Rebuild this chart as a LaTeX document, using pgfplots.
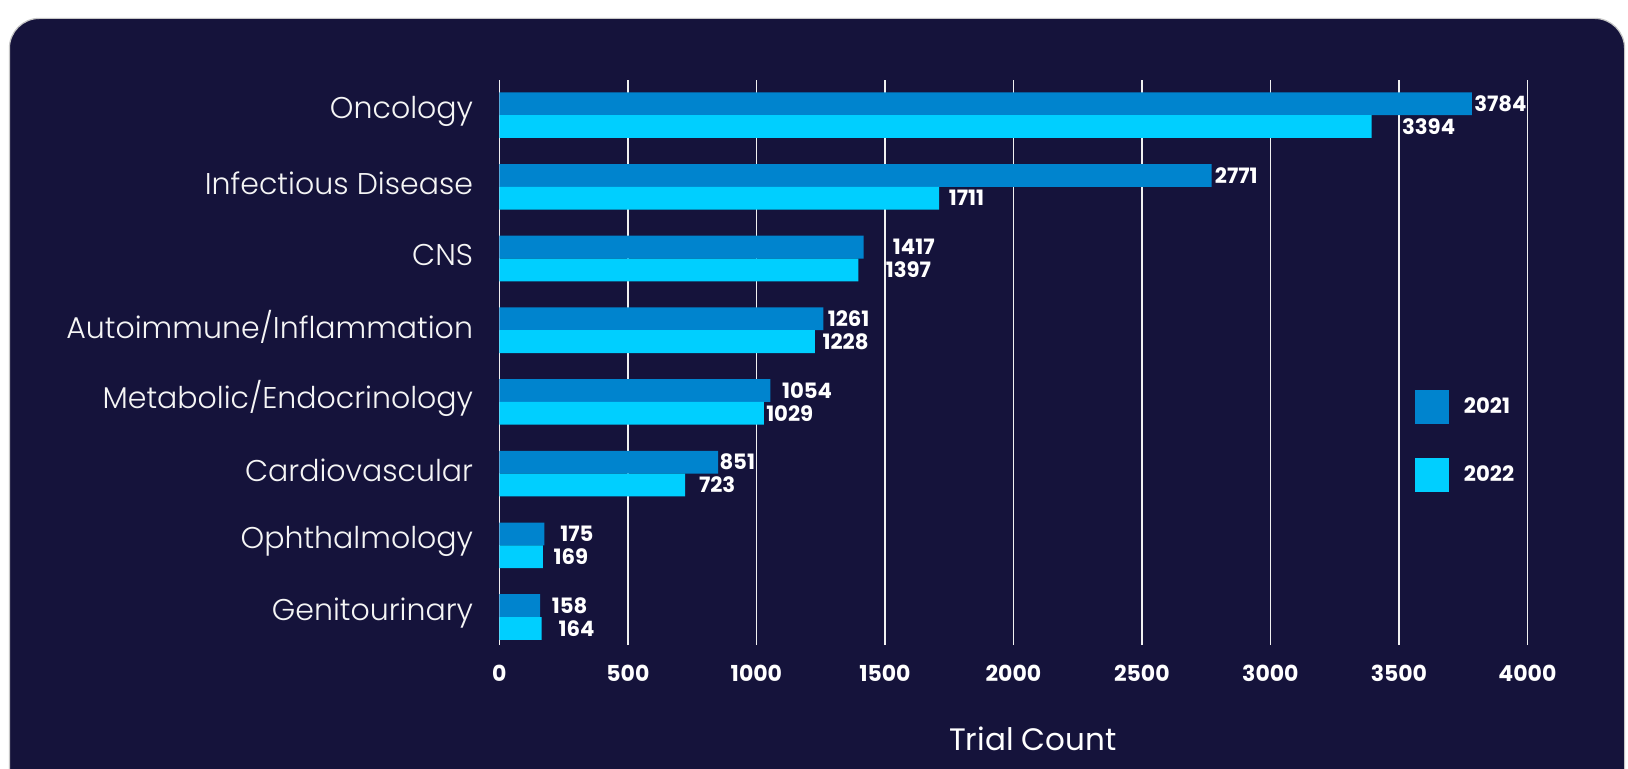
\documentclass[border=0pt]{standalone}
\usepackage{fontspec}
\setmainfont{Poppins}
\newfontfamily\lightfont{Poppins Light}
\usepackage{pgfplots}
\pgfplotsset{compat=1.18}
\usepackage{pgfplotstable}

\definecolor{bgnavy}{HTML}{15133B}
\definecolor{cA}{HTML}{0084CE}
\definecolor{cB}{HTML}{00CFFF}

\pgfplotsset{sqlegend/.style={legend image code/.code={\fill[##1,/tikz/.cd] (0pt,-8.5pt) rectangle (17pt,8.5pt);}}}

\pgfplotstableread{
y v21 d21 v22 d22
7 3784 1.0 3394 15.0
6 2771 1.5 1711 4.7
5 1417 14.5 1397 13.5
4 1261 2.0 1228 3.6
3 1054 5.7 1029 1.0
2 851 0.5 723 6.7
1 175 7.8 169 5.2
0 158 5.7 164 8.3
}\data

\begin{document}
\begin{tikzpicture}
\useasboundingbox (0,0) rectangle (814pt,-384.5pt);
\fill[white] (0,0) rectangle (814pt,-384.5pt);
\filldraw[fill=bgnavy, draw=gray!45, line width=0.6pt, rounded corners=15pt] (4.7pt,-9.2pt) rectangle (812.3pt,-430pt);
\begin{axis}[
  at={(249.7pt,-322.5pt)}, anchor=south west,
  scale only axis, width=514pt, height=282.5pt,
  xbar, bar width=11.4pt,
  xmin=0, xmax=4000, ymin=-0.39, ymax=7.49,
  xtick={0,500,...,4000},
  ytick={0,...,7},
  yticklabels={Genitourinary, Ophthalmology, Cardiovascular, Metabolic/Endocrinology, Autoimmune/Inflammation, CNS, Infectious Disease, Oncology},
  axis line style={draw=none},
  major tick length=0pt,
  xmajorgrids, ymajorgrids=false,
  grid style={color=white!88!gray, line width=0.8pt},
  /pgf/number format/assume math mode=true,
  /pgf/number format/1000 sep={},
  xticklabel style={font=\bfseries\fontsize{11}{13}\selectfont, text=white, anchor=north, inner sep=0pt, yshift=-9.8pt},
  yticklabel style={font=\lightfont\fontsize{15}{18}\selectfont, text=white!92!gray, anchor=east, inner sep=0pt, xshift=-13pt, yshift=1.8pt},
  xlabel={Trial Count},
  xlabel style={at={(axis description cs:0.519,0)}, anchor=center, yshift=-47pt, font=\fontsize{15.5}{18}\selectfont, text=white},
  legend style={at={(axis cs:3563,3.174)}, anchor=north west, draw=none, fill=none, text=white,
    font=\bfseries\fontsize{10.6}{12}\selectfont, row sep=17pt, inner sep=0pt, nodes={inner sep=0pt},
    /tikz/every odd column/.append style={column sep=7.25pt}},
  legend cell align=left,
]
\addplot[fill=cA, draw=none, bar shift=5.7pt, sqlegend,
  visualization depends on={\thisrow{d21} \as \dx},
  nodes near coords,
  nodes near coords style={anchor=west, inner sep=0pt, xshift=\dx pt, text=white, font=\bfseries\fontsize{10.6}{12}\selectfont}]
  table[x=v21, y=y]{\data};
\addlegendentry{2021}
\addplot[fill=cB, draw=none, bar shift=-5.7pt, sqlegend,
  visualization depends on={\thisrow{d22} \as \dx},
  nodes near coords,
  nodes near coords style={anchor=west, inner sep=0pt, xshift=\dx pt, text=white, font=\bfseries\fontsize{10.6}{12}\selectfont}]
  table[x=v22, y=y]{\data};
\addlegendentry{2022}
\end{axis}
\end{tikzpicture}
\end{document}
